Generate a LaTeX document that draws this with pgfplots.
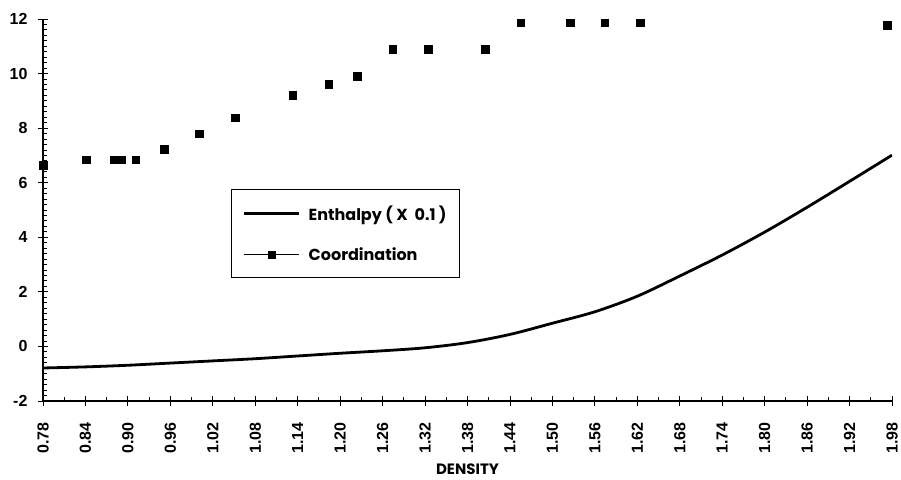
\documentclass[border=0pt]{standalone}
\usepackage{pgfplots}
\pgfplotsset{compat=1.18}
\usepackage{fontspec}
\setmainfont{Liberation Sans}
\newfontfamily\legfont{Poppins}
\begin{document}
\begin{tikzpicture}
\begin{axis}[
  scale only axis, width=849pt, height=382pt,
  xmin=0.78, xmax=1.98, ymin=-2, ymax=12,
  axis lines*=left,
  axis line style={line width=1.1pt},
  every tick/.style={black, line width=0.9pt},
  xtick={0.78,0.84,0.90,0.96,1.02,1.08,1.14,1.20,1.26,1.32,1.38,1.44,1.50,1.56,1.62,1.68,1.74,1.80,1.86,1.92,1.98},
  ytick={-2,0,2,4,6,8,10,12},
  minor x tick num=1, minor y tick num=9,
  tick align=inside, major tick length=5pt, minor tick length=4pt,
  extra x ticks={0.78,0.84,0.90,0.96,1.02,1.08,1.14,1.20,1.26,1.32,1.38,1.44,1.50,1.56,1.62,1.68,1.74,1.80,1.86,1.92,1.98},
  extra x tick labels={},
  extra y ticks={-2,0,2,4,6,8,10,12},
  extra y tick labels={},
  extra tick style={tick align=outside, major tick length=5pt, grid=none},
  /pgf/number format/assume math mode=true,
  tick label style={font=\fontsize{16}{19}\selectfont\bfseries},
  x tick label style={rotate=90, anchor=east, xshift=-18pt, /pgf/number format/.cd, fixed, fixed zerofill, precision=2},
  y tick label style={xshift=-12pt},
  xlabel={DENSITY},
  xlabel style={font=\legfont\fontsize{15}{18}\selectfont\bfseries,
    at={(axis description cs:0.5,0)}, anchor=center, yshift=-68pt},
  legend style={at={(0.222,0.555)}, anchor=north west, draw=black, line width=0.8pt,
    font=\legfont\fontsize{16}{18}\selectfont\bfseries, row sep=22pt, inner xsep=11pt, inner ysep=14pt,
    /tikz/every odd column/.append style={column sep=6pt}},
  legend cell align=left,
]
\coordinate (ll) at (rel axis cs:0,0);
\coordinate (ur) at (rel axis cs:1,1);
\addplot[line width=2.8pt, smooth, tension=0.5,
  legend image code/.code={\draw[line width=2.8pt] (0pt,0pt) -- (55pt,0pt);}]
  coordinates {
  (0.78,-0.79) (0.84,-0.75) (0.90,-0.69) (0.96,-0.61) (1.02,-0.53) (1.08,-0.45)
  (1.14,-0.35) (1.20,-0.25) (1.26,-0.16) (1.32,-0.05) (1.38,0.14) (1.44,0.44)
  (1.50,0.85) (1.56,1.27) (1.62,1.84) (1.68,2.58) (1.74,3.35) (1.80,4.19)
  (1.86,5.10) (1.92,6.05) (1.98,7.01)};
\addlegendentry{Enthalpy ( X\ \ 0.1 )}
\addplot[only marks, mark=square*, mark size=3.8pt,
  legend image code/.code={\draw[line width=0.5pt] (0pt,0pt) -- (55pt,0pt);
    \fill (24pt,-3.5pt) rectangle (31pt,3.5pt);}]
  coordinates {
  (0.780,6.65) (0.841,6.85) (0.880,6.85) (0.891,6.85) (0.911,6.85) (0.951,7.22)
  (1.001,7.80) (1.052,8.38) (1.133,9.20) (1.184,9.60) (1.224,9.90) (1.2745,10.89)
  (1.3247,10.89) (1.405,10.89) (1.455,11.87) (1.525,11.87) (1.574,11.87) (1.624,11.87)
  (1.973,11.78)};
\addlegendentry{Coordination}
\end{axis}
\pgfresetboundingbox
\path ([xshift=-43pt,yshift=-78pt]ll) rectangle ([xshift=9pt,yshift=19pt]ur);
\end{tikzpicture}
\end{document}
